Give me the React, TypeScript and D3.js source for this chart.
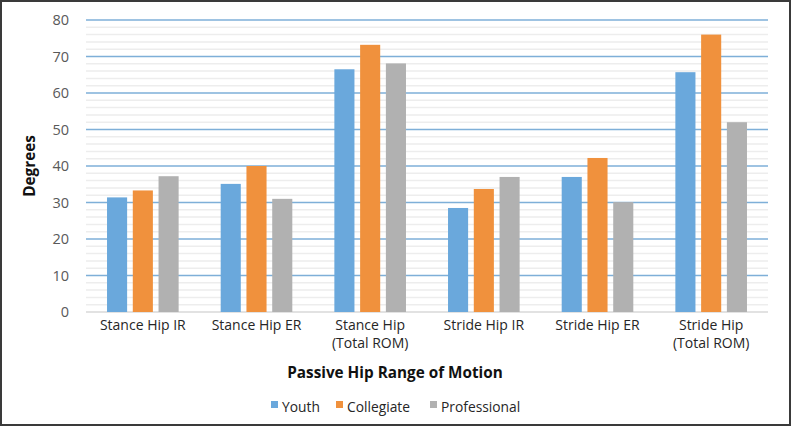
import React, { useEffect, useRef } from 'react';
import * as d3 from 'd3';

const categories = [
  'Stance Hip IR',
  'Stance Hip ER',
  'Stance Hip\n(Total ROM)',
  'Stride Hip IR',
  'Stride Hip ER',
  'Stride Hip\n(Total ROM)',
];
const seriesNames = ['Youth', 'Collegiate', 'Professional'];
const youth = [31.4, 35.1, 66.5, 28.5, 37.0, 65.7];
const collegiate = [33.3, 40.0, 73.2, 33.7, 42.2, 76.0];
const professional = [37.2, 31.0, 68.1, 37.0, 30.1, 52.0];
const yTicks = [0, 10, 20, 30, 40, 50, 60, 70, 80];

const colors = ['#6aa8dc', '#f0913d', '#b1b1b1'];

const App = () => {
  const ref = useRef<SVGSVGElement | null>(null);

  useEffect(() => {
    if (!ref.current) return;
    const svg = d3.select(ref.current);
    svg.selectAll('*').remove();

    const W = 792, H = 427;
    const margin = { top: 20, right: 24, bottom: 115, left: 86 };
    const width = W - margin.left - margin.right;
    const height = H - margin.top - margin.bottom;
    const font = "'Open Sans', sans-serif";

    // frame
    svg.append('rect')
      .attr('x', 1).attr('y', 1)
      .attr('width', W - 3).attr('height', H - 3)
      .attr('fill', '#fff')
      .attr('stroke', '#3a3a3a')
      .attr('stroke-width', 2);

    const chart = svg.append('g')
      .attr('transform', `translate(${margin.left},${margin.top})`);

    const x = d3.scaleBand()
      .domain(categories)
      .range([0, width]);
    const x1 = d3.scaleBand()
      .domain(seriesNames)
      .range([x.bandwidth() * 0.185, x.bandwidth() * 0.815])
      .paddingInner(0.22);
    const y = d3.scaleLinear().domain([0, 80]).range([height, 0]);

    // minor gridlines
    chart.append('g')
      .selectAll('line')
      .data(d3.range(2, 80, 2).filter(v => v % 10 !== 0))
      .enter()
      .append('line')
      .attr('x1', 0).attr('x2', width)
      .attr('y1', d => y(d)).attr('y2', d => y(d))
      .attr('stroke', '#ededed')
      .attr('stroke-width', 1.5);

    // major gridlines
    chart.append('g')
      .selectAll('line')
      .data(yTicks.slice(1))
      .enter()
      .append('line')
      .attr('x1', 0).attr('x2', width)
      .attr('y1', d => y(d)).attr('y2', d => y(d))
      .attr('stroke', '#7eafd8')
      .attr('stroke-width', 1.5);

    // baseline
    chart.append('line')
      .attr('x1', 0).attr('x2', width)
      .attr('y1', y(0)).attr('y2', y(0))
      .attr('stroke', '#d9d9d9')
      .attr('stroke-width', 1.5);

    // y tick labels
    chart.append('g')
      .selectAll('text')
      .data(yTicks)
      .enter()
      .append('text')
      .attr('x', -17)
      .attr('y', d => y(d))
      .attr('dy', '0.36em')
      .attr('text-anchor', 'end')
      .attr('font-family', font)
      .attr('font-size', 14.5)
      .attr('fill', '#595959')
      .text(d => d);

    // bars
    const seriesValues = [youth, collegiate, professional];
    const groups = chart.append('g')
      .selectAll('g')
      .data(categories)
      .enter()
      .append('g')
      .attr('transform', d => `translate(${x(d)},0)`);

    groups.selectAll('rect')
      .data((d, i) => seriesNames.map((s, j) => ({ s, v: seriesValues[j][i], j })))
      .enter()
      .append('rect')
      .attr('x', d => x1(d.s) as number)
      .attr('width', x1.bandwidth())
      .attr('y', d => y(d.v))
      .attr('height', d => height - y(d.v))
      .attr('fill', d => colors[d.j]);

    // x labels, one text per line
    const lines = categories.flatMap(c =>
      c.split('\n').map((t, i) => ({ c, t, i }))
    );
    chart.append('g')
      .selectAll('text')
      .data(lines)
      .enter()
      .append('text')
      .attr('x', d => (x(d.c) as number) + x.bandwidth() / 2)
      .attr('y', d => height + 18 + d.i * 18)
      .attr('text-anchor', 'middle')
      .attr('font-family', font)
      .attr('font-size', 14)
      .attr('fill', '#262626')
      .text(d => d.t);

    // axis titles
    svg.append('text')
      .attr('x', 395)
      .attr('y', 378)
      .attr('text-anchor', 'middle')
      .attr('font-family', font)
      .attr('font-weight', 'bold')
      .attr('font-size', 15.3)
      .attr('fill', '#111')
      .text('Passive Hip Range of Motion');

    svg.append('text')
      .attr('transform', `translate(35,${margin.top + height / 2}) rotate(-90)`)
      .attr('text-anchor', 'middle')
      .attr('font-family', font)
      .attr('font-weight', 'bold')
      .attr('font-size', 15.3)
      .attr('fill', '#111')
      .text('Degrees');

    // legend
    const legendX = [271, 336, 430];
    const legend = svg.append('g')
      .selectAll('g')
      .data(seriesNames)
      .enter()
      .append('g')
      .attr('transform', (d, i) => `translate(${legendX[i]},412)`);
    legend.append('rect')
      .attr('x', 0).attr('y', -11)
      .attr('width', 7).attr('height', 7)
      .attr('fill', (d, i) => colors[i]);
    legend.append('text')
      .attr('x', 11)
      .attr('y', 0)
      .attr('font-family', font)
      .attr('font-size', 13.8)
      .attr('fill', '#262626')
      .text(d => d);
  }, []);

  return (
    <svg
      ref={ref}
      width={792}
      height={427}
      style={{ position: 'absolute', left: 0, top: 0 }}
    />
  );
};

export default App;
